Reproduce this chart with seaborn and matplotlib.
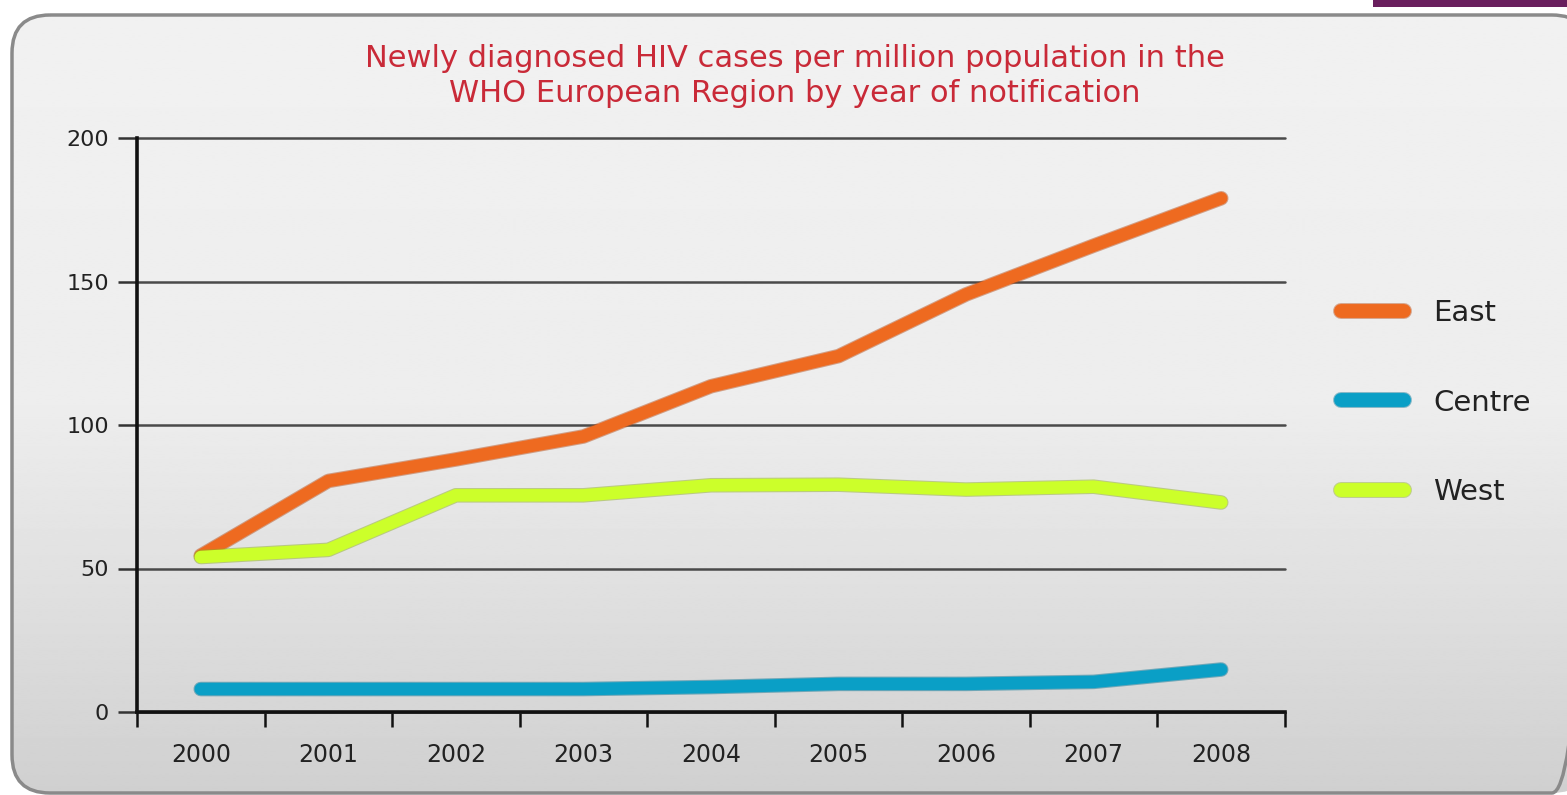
import numpy as np
import pandas as pd
import matplotlib
matplotlib.use("Agg")
import matplotlib.pyplot as plt
import matplotlib.patheffects as pe
from matplotlib.patches import FancyBboxPatch, Rectangle
import seaborn as sns

# values
years = [2000, 2001, 2002, 2003, 2004, 2005, 2006, 2007, 2008]
east = [54.5, 80.5, 88.0, 96.0, 113.5, 124.0, 145.5, 162.5, 179.0]
centre = [8.0, 8.0, 8.0, 8.0, 8.7, 9.8, 9.8, 10.5, 14.8]
west = [54.0, 56.5, 75.5, 75.5, 79.0, 79.2, 77.5, 78.5, 73.0]
regions = ["East", "Centre", "West"]
y_ticks = [0, 50, 100, 150, 200]
title = "Newly diagnosed HIV cases per million population in the\nWHO European Region by year of notification"

df = pd.DataFrame({
    "year": years * 3,
    "rate": east + centre + west,
    "region": ["East"] * len(years) + ["Centre"] * len(years) + ["West"] * len(years),
})

colors = {"East": "#ee6a20", "Centre": "#0a9fc6", "West": "#ccff2a"}
edges = {"East": "#b8501c", "Centre": "#0a7898", "West": "#8fae22"}

sns.set_style("ticks")
plt.rcParams["font.family"] = ["DejaVu Sans"]

W, H = 1567, 795
fig = plt.figure(figsize=(W / 100, H / 100), dpi=100)
fig.patch.set_facecolor("white")

# background panel with a vertical gradient and rounded corners
bg = fig.add_axes([0, 0, 1, 1], zorder=-2)
bg.set_xlim(0, W)
bg.set_ylim(H, 0)
bg.axis("off")
stops_y = [0.0, 0.5, 0.75, 1.0]
stops_v = [0.945, 0.93, 0.875, 0.815]
grad = np.interp(np.linspace(0, 1, 400), stops_y, stops_v)
img = np.repeat(grad[:, None], 2, axis=1)
im = bg.imshow(img, cmap="gray", vmin=0, vmax=1, aspect="auto",
               extent=(12, 1590, 793, 15), interpolation="bilinear")
frame = FancyBboxPatch((12, 15), 1578, 778, boxstyle="round,pad=0,rounding_size=38",
                       facecolor="none", edgecolor="#8a8a8a", linewidth=2.5)
bg.add_patch(frame)
im.set_clip_path(frame)
bg.add_patch(Rectangle((1373, 0), 194, 7, facecolor="#6a1f5e", edgecolor="none"))

ax = fig.add_axes([137 / W, 83 / H, 1148 / W, 574 / H])
ax.set_facecolor("none")

sns.lineplot(data=df, x="year", y="rate", hue="region", hue_order=regions,
             palette=colors, linewidth=9, solid_capstyle="round",
             solid_joinstyle="round", ax=ax, zorder=3)

for line, reg in zip(ax.get_lines(), regions):
    line.set_path_effects([pe.Stroke(linewidth=10.5, foreground=edges[reg], alpha=0.5),
                           pe.Normal()])

ax.set_xlim(1999.5, 2008.5)
ax.set_ylim(0, 200)
ax.set_yticks(y_ticks)
ax.set_xticks(years)
ax.set_xticklabels([str(y) for y in years])
ax.set_xticks(np.arange(1999.5, 2009, 1.0), minor=True)
ax.tick_params(axis="x", which="major", bottom=True, length=0, pad=22, labelsize=17,
               labelcolor="#222222")
ax.tick_params(axis="x", which="minor", bottom=True, length=11, width=1.8,
               color="#111111", direction="out")
ax.tick_params(axis="y", which="major", left=True, length=14, width=1.8, color="#333333",
               direction="out", pad=6, labelsize=16, labelcolor="#222222")
ax.set_xlabel("")
ax.set_ylabel("")

ax.grid(axis="y", color="#4a4a4a", linewidth=1.8)
ax.set_axisbelow(True)
for gl in ax.get_ygridlines():
    gl.set_clip_on(False)
for side in ["top", "right"]:
    ax.spines[side].set_visible(False)
for side in ["left", "bottom"]:
    ax.spines[side].set_color("#111111")
    ax.spines[side].set_linewidth(2.6)
    ax.spines[side].set_zorder(4)

leg = ax.legend(loc="center left", bbox_to_anchor=(1.049, 0.539), frameon=False,
                fontsize=21, handlelength=2.15, handletextpad=1.0, labelspacing=2.12,
                borderpad=0, borderaxespad=0)
for lline, reg in zip(leg.get_lines(), regions):
    lline.set_linewidth(10)
    lline.set_solid_capstyle("round")
    lline.set_path_effects([pe.Stroke(linewidth=11.5, foreground=edges[reg], alpha=0.45),
                            pe.Normal()])
for t in leg.get_texts():
    t.set_color("#222222")

fig.text(795 / W, 1 - 76 / H, title, ha="center", va="center", fontsize=22,
         color="#c92a38", linespacing=1.3)

fig.savefig("out.png", dpi=100, facecolor=fig.get_facecolor())
